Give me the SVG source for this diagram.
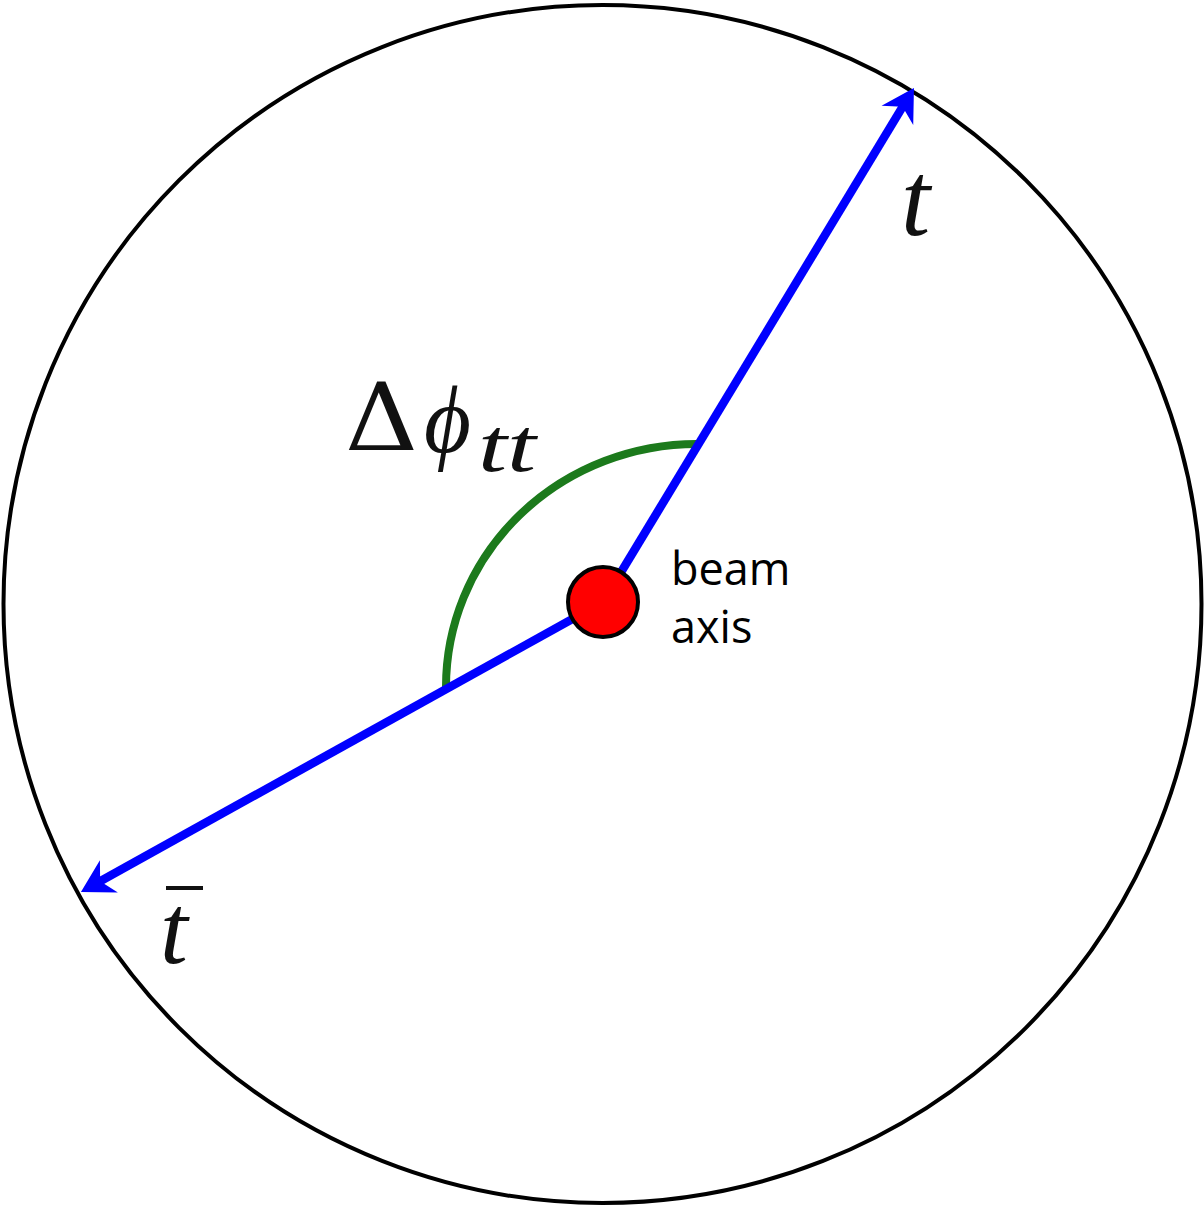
<svg xmlns="http://www.w3.org/2000/svg" width="1204" height="1207" viewBox="0 0 1204 1207">
<style>
.vec{stroke:#0000ff;stroke-width:8.5;fill:none;stroke-linecap:butt}
.math{font-family:"Liberation Serif","DejaVu Serif",serif;font-style:italic;fill:#111}
.lbl{font-family:"Open Sans","Liberation Sans",sans-serif;fill:#000}
</style>
<defs>
<marker id="arr" markerUnits="userSpaceOnUse" viewBox="-15 -22 40 44" markerWidth="40" markerHeight="44" refX="0" refY="0" orient="auto">
<path d="M20,0 L-12,-18.5 L-2,0 L-12,18.5 Z" fill="#0000ff"/>
</marker>
</defs>
<rect width="1204" height="1207" fill="#fff"/>
<g id="boundary">
<circle cx="602.5" cy="604" r="599" fill="none" stroke="#000" stroke-width="4"/>
</g>
<g id="connectors">
<path id="arc" d="M697,444 A251,243 0 0 0 446,687" fill="none" stroke="#1c7a1c" stroke-width="8"/>
<line class="vec" x1="603" y1="602" x2="903.6" y2="105.1" marker-end="url(#arr)"/>
<line class="vec" x1="603" y1="602" x2="98.4" y2="882.2" marker-end="url(#arr)"/>
</g>
<g id="beam-axis">
<circle cx="603" cy="602" r="35" fill="#ff0000" stroke="#000" stroke-width="4"/>
<text class="lbl" x="671" y="585" font-size="45">beam</text>
<text class="lbl" x="671" y="643" font-size="45">axis</text>
</g>
<g id="label-t">
<text class="math" x="901" y="235" font-size="105">t</text>
</g>
<g id="label-tbar">
<text class="math" x="160" y="963" font-size="100">t</text>
<line x1="166" y1="888" x2="203" y2="888" stroke="#111" stroke-width="4"/>
</g>
<g id="label-dphi">
<text x="345" y="450" font-size="94" font-family="'DejaVu Serif','Liberation Serif',serif" fill="#111" textLength="73" lengthAdjust="spacingAndGlyphs">Δ</text>
<text class="math" x="424" y="452" font-size="96" textLength="47" lengthAdjust="spacingAndGlyphs">ϕ</text>
<text class="math" x="478" y="471" font-size="76" textLength="58" lengthAdjust="spacingAndGlyphs">tt</text>
</g>
</svg>
